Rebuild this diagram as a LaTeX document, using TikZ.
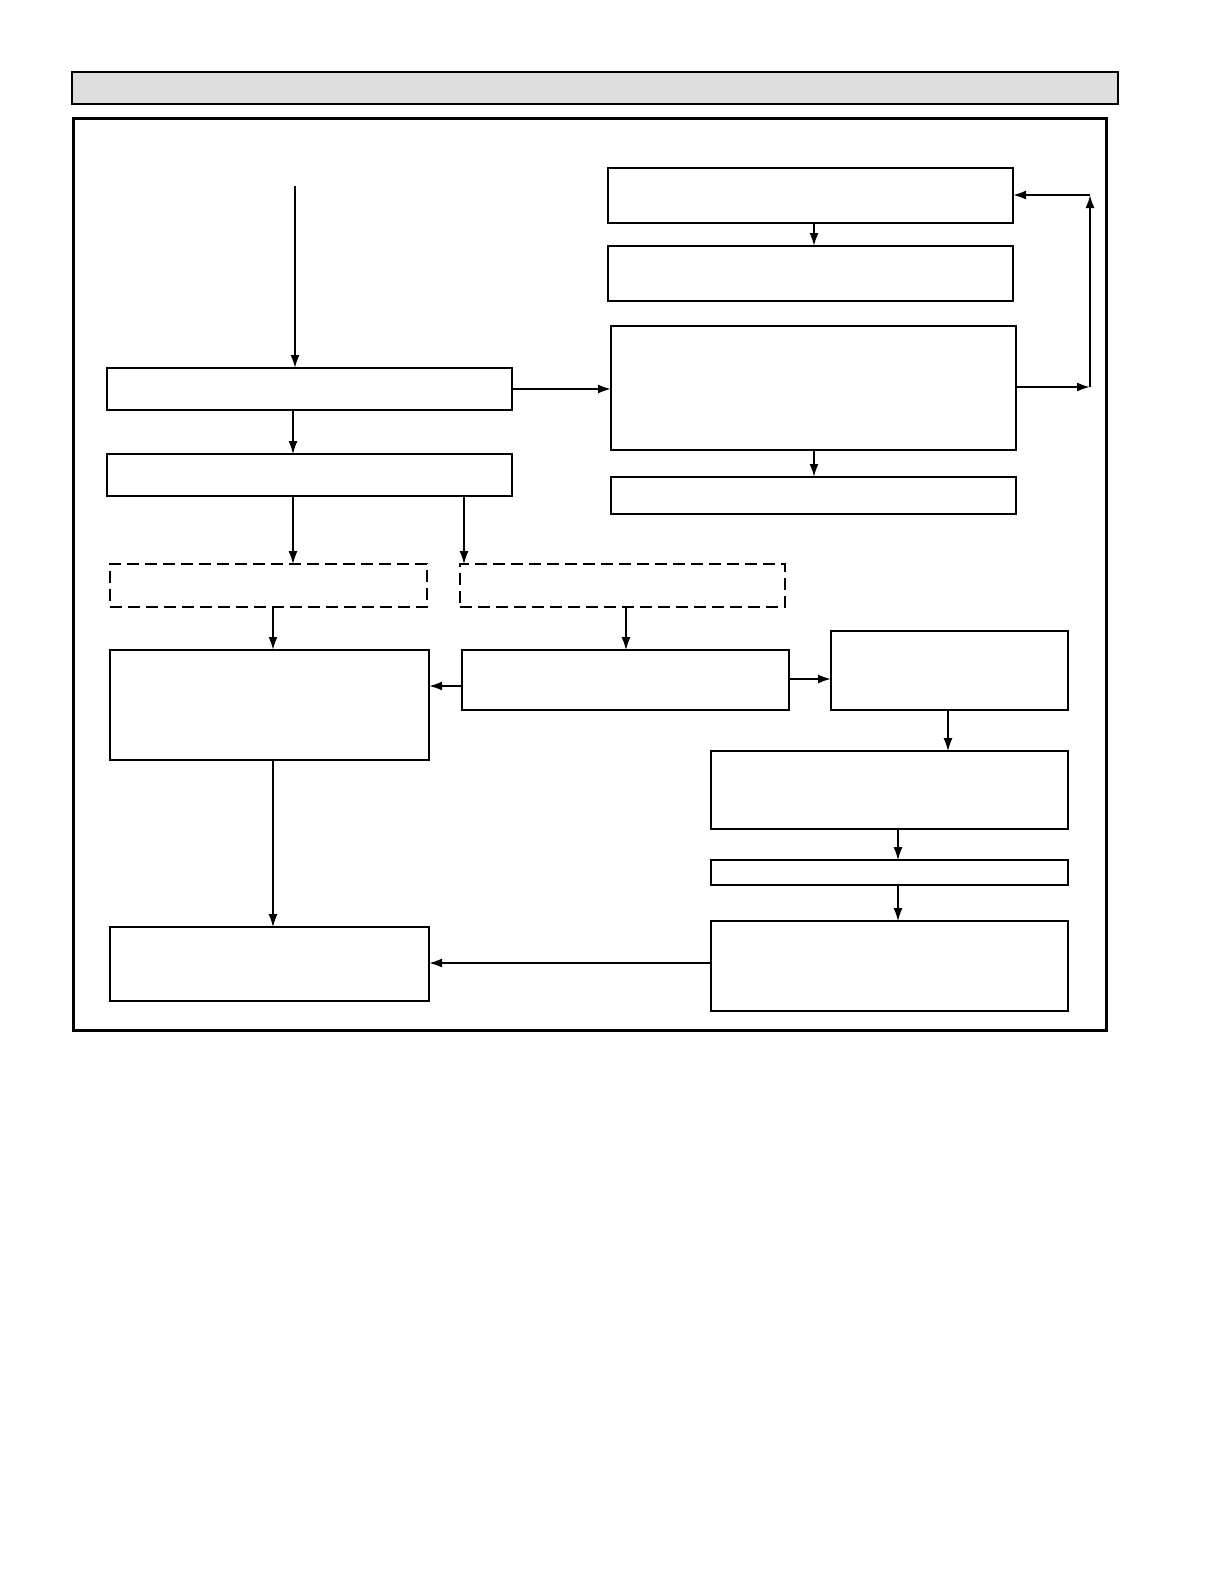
\documentclass[tikz,border=0pt]{standalone}
\usepackage{tikz}
\usetikzlibrary{arrows.meta}
\definecolor{barfill}{RGB}{222,222,222}

\tikzset{
  box/.style={draw, line width=1pt, inner sep=0pt, outer sep=0pt},
  dashbox/.style={box, dash pattern=on 6pt off 3pt},
  arr/.style={line width=1pt, -{Latex[length=6.5pt,width=4.5pt]}},
  thinarr/.style={line width=0.6pt, -{Latex[length=6.5pt,width=4.5pt]}}
}

\begin{document}
\begin{tikzpicture}[x=0.5pt,y=-0.5pt]
\useasboundingbox (0,0) rectangle (1224,1584);

%draw header bar and frame
    \draw[line width=1pt, fill=barfill] (72,72) rectangle (1118,104);
    \draw[line width=1.5pt] (73,119) rectangle (1106,1030);

%draw left column boxes
    \node[box, minimum width=202.5pt, minimum height=21pt] (inA) at (309.5,389) {};
    \node[box, minimum width=202.5pt, minimum height=21pt] (inB) at (309.5,475) {};
    \node[dashbox, minimum width=158.5pt, minimum height=21.5pt] (optL) at (268.5,585.5) {};
    \node[dashbox, minimum width=162.5pt, minimum height=21.5pt] (optR) at (622.5,585.5) {};
    \node[box, minimum width=159.5pt, minimum height=55pt] (resL) at (269.5,705) {};
    \node[box, minimum width=163.5pt, minimum height=30pt] (mid) at (625.5,680) {};
    \node[box, minimum width=159.5pt, minimum height=37pt] (endL) at (269.5,964) {};

%draw right column boxes
    \node[box, minimum width=202.5pt, minimum height=27.5pt] (topA) at (810.5,195.5) {};
    \node[box, minimum width=202.5pt, minimum height=27.5pt] (topB) at (810.5,273.5) {};
    \node[box, minimum width=202.5pt, minimum height=62pt] (core) at (813.5,388) {};
    \node[box, minimum width=202.5pt, minimum height=18.5pt] (coreOut) at (813.5,495.5) {};
    \node[box, minimum width=118.5pt, minimum height=39.5pt] (side) at (949.5,670.5) {};
    \node[box, minimum width=178.5pt, minimum height=39pt] (stepA) at (889.5,790) {};
    \node[box, minimum width=178.5pt, minimum height=12.5pt] (stepB) at (889.5,872.5) {};
    \node[box, minimum width=178.5pt, minimum height=45pt] (stepC) at (889.5,966) {};

%loop coordinates
    \coordinate (start) at (295,186);
    \coordinate (loopLow) at (1090,387);
    \coordinate (loopTop) at (1090,195);

%draw arrows
    \draw[arr] (start) -- (start |- inA.north);
    \draw[thinarr] (inA.south -| 293,0) -- (inB.north -| 293,0);
    \draw[arr] (inA.east) -- (inA.east -| core.west);
    \draw[thinarr] (inB.south -| 293,0) -- (optL.north -| 293,0);
    \draw[thinarr] (inB.south -| 464,0) -- (optR.north -| 464,0);
    \draw[arr] (optL.south -| 273,0) -- (resL.north -| 273,0);
    \draw[thinarr] (optR.south -| 626,0) -- (mid.north -| 626,0);
    \draw[arr] (mid.west |- 0,686) -- (resL.east |- 0,686);
    \draw[arr] (mid.east |- 0,679) -- (side.west |- 0,679);
    \draw[thinarr] (resL.south -| 273,0) -- (endL.north -| 273,0);

    \draw[arr] (topA.south -| 814,0) -- (topB.north -| 814,0);
    \draw[arr] (core.south -| 814,0) -- (coreOut.north -| 814,0);
    \draw[arr] (core.east |- loopLow) -- (loopLow);
    \draw[arr] (loopLow) -- (loopTop);
    \draw[arr] (loopTop) -- (topA.east |- loopTop);

    \draw[thinarr] (side.south -| 948,0) -- (stepA.north -| 948,0);
    \draw[thinarr] (stepA.south -| 898,0) -- (stepB.north -| 898,0);
    \draw[thinarr] (stepB.south -| 898,0) -- (stepC.north -| 898,0);
    \draw[arr] (stepC.west |- 0,963) -- (endL.east |- 0,963);

\end{tikzpicture}
\end{document}
